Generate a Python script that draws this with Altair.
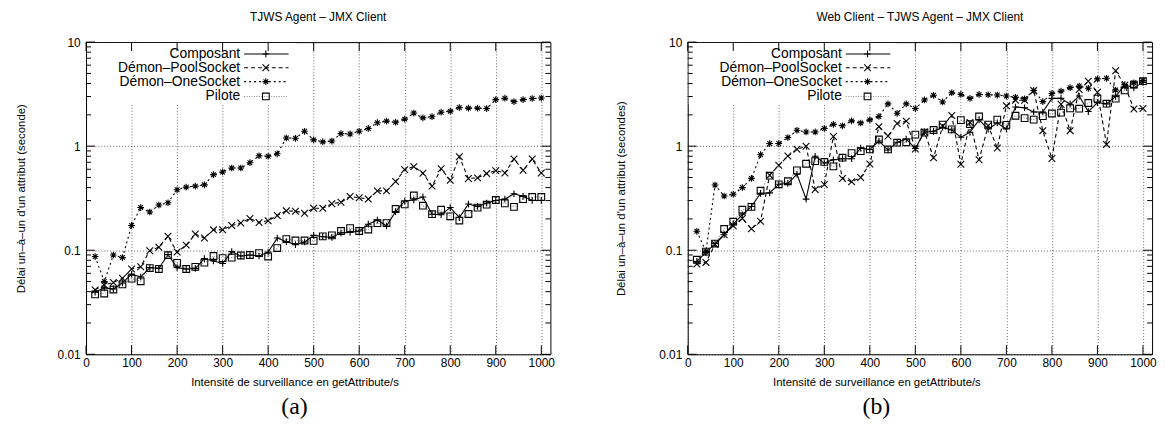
import altair as alt
import pandas as pd

# ---------------- data ----------------
X = list(range(20, 1001, 20))
SERIES = ["Composant", "Démon–PoolSocket", "Démon–OneSocket", "Pilote"]

COMPOSANT_A = [0.0395, 0.0435, 0.0425, 0.0485, 0.059, 0.0553, 0.068, 0.067, 0.091, 0.068,
               0.066, 0.067, 0.083, 0.079, 0.0746, 0.097, 0.088, 0.090, 0.088, 0.096,
               0.131, 0.121, 0.113, 0.120, 0.139, 0.135, 0.133, 0.147, 0.148, 0.153,
               0.178, 0.195, 0.171, 0.235, 0.297, 0.304, 0.325, 0.222, 0.219, 0.257,
               0.206, 0.278, 0.264, 0.284, 0.301, 0.310, 0.349, 0.329, 0.301, 0.301]
POOL_A = [0.0416, 0.0464, 0.049, 0.0537, 0.0659, 0.0693, 0.099, 0.107, 0.136, 0.096,
          0.112, 0.143, 0.131, 0.157, 0.157, 0.173, 0.183, 0.202, 0.185, 0.192,
          0.216, 0.239, 0.237, 0.227, 0.253, 0.253, 0.280, 0.289, 0.329, 0.319,
          0.310, 0.372, 0.372, 0.457, 0.595, 0.636, 0.55, 0.413, 0.608, 0.471,
          0.791, 0.489, 0.496, 0.545, 0.582, 0.553, 0.752, 0.587, 0.752, 0.553]
ONE_A = [0.087, 0.050, 0.090, 0.085, 0.173, 0.257, 0.233, 0.272, 0.286, 0.381,
         0.404, 0.413, 0.425, 0.533, 0.565, 0.617, 0.617, 0.694, 0.809, 0.80,
         0.845, 1.20, 1.19, 1.39, 1.15, 1.10, 1.12, 1.32, 1.31, 1.39,
         1.48, 1.68, 1.74, 1.70, 1.82, 2.08, 1.87, 1.92, 2.12, 2.17,
         2.35, 2.32, 2.32, 2.30, 2.80, 2.89, 2.68, 2.80, 2.87, 2.90]
PILOTE_A = [0.0376, 0.0384, 0.0419, 0.047, 0.0533, 0.0503, 0.0674, 0.066, 0.0896, 0.0757,
            0.066, 0.0693, 0.076, 0.088, 0.084, 0.085, 0.089, 0.090, 0.094, 0.087,
            0.105, 0.128, 0.124, 0.124, 0.123, 0.136, 0.139, 0.153, 0.163, 0.153,
            0.158, 0.182, 0.182, 0.249, 0.276, 0.336, 0.268, 0.222, 0.245, 0.212,
            0.193, 0.223, 0.257, 0.274, 0.304, 0.282, 0.261, 0.310, 0.325, 0.325]

COMPOSANT_B = [0.078, 0.095, 0.116, 0.141, 0.179, 0.219, 0.263, 0.352, 0.356, 0.43,
               0.44, 0.537, 0.31, 0.80, 0.69, 0.74, 0.758, 0.758, 0.957, 0.93,
               1.12, 0.92, 1.09, 1.17, 0.95, 1.37, 1.39, 1.52, 1.43, 1.22,
               1.36, 1.79, 1.46, 1.67, 1.46, 2.38, 2.34, 2.13, 2.13, 2.88,
               2.88, 2.53, 3.03, 2.15, 2.62, 2.55, 3.0, 3.9, 3.64, 4.1]
POOL_B = [0.0736, 0.0764, 0.114, 0.141, 0.172, 0.202, 0.161, 0.19, 0.526, 0.655,
          0.803, 0.936, 1.0, 0.384, 0.429, 1.24, 0.49, 0.455, 0.50, 0.674,
          1.54, 1.25, 1.65, 1.74, 0.94, 1.37, 0.775, 1.56, 1.97, 0.67,
          1.69, 0.74, 1.57, 0.96, 2.44, 2.76, 2.76, 3.43, 1.41, 0.76,
          2.53, 1.41, 3.5, 4.2, 3.3, 1.04, 5.3, 3.85, 2.28, 2.3]
ONE_B = [0.152, 0.097, 0.423, 0.332, 0.345, 0.40, 0.49, 0.828, 1.06, 1.06,
         1.21, 1.42, 1.37, 1.37, 1.48, 1.62, 1.57, 1.75, 1.67, 1.79,
         1.93, 2.55, 2.07, 2.55, 2.30, 2.78, 3.08, 2.66, 3.26, 3.14,
         2.88, 3.14, 3.12, 3.10, 3.03, 2.95, 2.85, 3.43, 2.68, 3.21,
         3.38, 3.65, 3.78, 3.6, 4.43, 4.49, 3.46, 3.77, 4.06, 4.27]
PILOTE_B = [0.081, 0.097, 0.116, 0.16, 0.188, 0.245, 0.261, 0.373, 0.52, 0.43,
            0.46, 0.586, 0.678, 0.719, 0.705, 0.64, 0.775, 0.857, 0.896, 0.93,
            1.16, 0.93, 1.08, 1.09, 1.29, 1.35, 1.43, 1.61, 1.45, 1.78,
            1.63, 1.93, 1.61, 1.80, 1.60, 1.96, 1.86, 1.80, 1.94, 2.06,
            2.10, 2.31, 2.29, 2.60, 2.86, 2.56, 2.86, 3.43, 3.91, 4.21]

PANEL_TITLES = ["TJWS Agent – JMX Client", "Web Client – TJWS Agent – JMX Client"]
Y_TITLES = ["Délai un–à–un d'un attribut (seconde)", "Délai un–à–un d'un attribut (secondes)"]
X_TITLE = "Intensité de surveillance en getAttribute/s"
CAPTIONS = ["(a)", "(b)"]

Y_MAJOR = [0.01, 0.1, 1, 10]
Y_MINOR = [0.02, 0.03, 0.04, 0.05, 0.06, 0.07, 0.08, 0.09,
           0.2, 0.3, 0.4, 0.5, 0.6, 0.7, 0.8, 0.9,
           2, 3, 4, 5, 6, 7, 8, 9]
X_MAJOR = [0, 100, 200, 300, 400, 500, 600, 700, 800, 900, 1000]

# ---------------- styles ----------------
W, H = 470, 316
FONT = "Liberation Sans"
PLUS = "M-1,0L1,0M0,-1L0,1"
CROSS = "M-1,-1L1,1M-1,1L1,-1"
STAR = "M-1,0L1,0M0,-1L0,1M-0.7,-0.7L0.7,0.7M-0.7,0.7L0.7,-0.7"
SHAPES = [PLUS, CROSS, STAR, "square"]
COLORS = ["black", "black", "black", "#8c8c8c"]
DASHES = [[1, 0], [4, 3], [2, 3], [1, 1.5]]
LEG_ROWS = [12, 26, 40, 55]


def make_panel(series_vals, idx, title_x):
    rows = []
    for name, vals in zip(SERIES, series_vals):
        for xv, yv in zip(X, vals):
            rows.append({"x": xv, "value": yv, "series": name})
    df = pd.DataFrame(rows)

    x_axis = alt.Axis(values=X_MAJOR, format="d", title=X_TITLE, ticks=False, tickSize=0,
                      labelPadding=3, labelFlush=False, titleX=title_x, titleY=29,
                      titleBaseline="middle", domain=False)
    y_axis = alt.Axis(values=Y_MAJOR, format="~g", title=Y_TITLES[idx], ticks=False, tickSize=0,
                      labelPadding=6, labelFlush=False, titleX=-65 if idx == 0 else -67,
                      titleBaseline="middle", domain=False)
    xs = alt.Scale(domain=[0, 1020], nice=False, zero=False)
    ys = alt.Scale(type="log", domain=[0.01, 10], nice=False)

    X_ENC = alt.X("x:Q", scale=xs, axis=x_axis)
    Y_ENC = alt.Y("value:Q", scale=ys, axis=y_axis)

    one = pd.DataFrame({"k": [0]})
    legend_bg = alt.Chart(one).mark_rect(color="white").encode(
        x=alt.value(1), x2=alt.value(212), y=alt.value(1), y2=alt.value(63))

    lines = alt.Chart(df).mark_line(strokeWidth=1.1).encode(
        x=X_ENC, y=Y_ENC,
        color=alt.Color("series:N", scale=alt.Scale(domain=SERIES, range=COLORS), legend=None),
        strokeDash=alt.StrokeDash("series:N", scale=alt.Scale(domain=SERIES, range=DASHES), legend=None),
        detail="series:N",
    )
    points = alt.Chart(df).mark_point(filled=False, size=46, strokeWidth=1.1, color="black", opacity=1).encode(
        x=X_ENC, y=Y_ENC,
        shape=alt.Shape("series:N", scale=alt.Scale(domain=SERIES, range=SHAPES), legend=None),
    )

    layers = [legend_bg]

    # inner ticks (gnuplot style)
    ymaj = pd.DataFrame({"value": Y_MAJOR})
    ymin = pd.DataFrame({"value": Y_MINOR})
    xmaj = pd.DataFrame({"x": X_MAJOR})
    for d, ln in ((ymaj, 9), (ymin, 5)):
        layers.append(alt.Chart(d).mark_rule(color="black", strokeWidth=1).encode(
            y=Y_ENC, x=alt.value(0), x2=alt.value(ln)))
        layers.append(alt.Chart(d).mark_rule(color="black", strokeWidth=1).encode(
            y=Y_ENC, x=alt.value(W), x2=alt.value(W - ln)))
    layers.append(alt.Chart(xmaj).mark_rule(color="black", strokeWidth=1).encode(
        x=X_ENC, y=alt.value(H), y2=alt.value(H - 9)))
    layers.append(alt.Chart(xmaj).mark_rule(color="black", strokeWidth=1).encode(
        x=X_ENC, y=alt.value(0), y2=alt.value(9)))

    layers += [lines, points]

    # gnuplot-like key (label left, sample right)
    for i, name in enumerate(SERIES):
        d = pd.DataFrame({"label": [name]})
        layers.append(alt.Chart(d).mark_text(align="right", baseline="middle", fontSize=14,
                                             font=FONT, color="black").encode(
            x=alt.value(156), y=alt.value(LEG_ROWS[i]), text="label:N"))
        layers.append(alt.Chart(d).mark_rule(color=COLORS[i], strokeDash=DASHES[i], strokeWidth=1.1).encode(
            x=alt.value(160), x2=alt.value(205), y=alt.value(LEG_ROWS[i])))
        layers.append(alt.Chart(d).mark_point(shape=SHAPES[i], filled=False, size=46, strokeWidth=1.1,
                                              color="black", opacity=1).encode(
            x=alt.value(182), y=alt.value(LEG_ROWS[i])))

    cap = pd.DataFrame({"label": [CAPTIONS[idx]]})
    layers.append(alt.Chart(cap).mark_text(align="center", baseline="middle", fontSize=24,
                                           font="Liberation Serif", color="black").encode(
        x=alt.value(title_x), y=alt.value(H + 53), text="label:N"))

    return alt.layer(*layers).properties(
        width=W, height=H,
        title=alt.TitleParams(PANEL_TITLES[idx], fontSize=12, font=FONT, fontWeight="normal",
                              anchor="middle", frame="group", offset=12, color="black"),
    )


panel_a = make_panel([COMPOSANT_A, POOL_A, ONE_A, PILOTE_A], 0, 211)
panel_b = make_panel([COMPOSANT_B, POOL_B, ONE_B, PILOTE_B], 1, 191)

chart = alt.hconcat(panel_a, panel_b, spacing=60).properties(
    padding={"left": 7, "top": 0, "right": 0, "bottom": 0}
).configure_view(
    stroke="black", strokeWidth=1
).configure_axis(
    grid=True, gridColor="black", gridDash=[1, 2], gridOpacity=0.75, gridWidth=0.8,
    labelFont=FONT, labelFontSize=12, labelColor="black",
    titleFont=FONT, titleFontSize=11.5, titleFontWeight="normal", titleColor="black",
    labelOverlap=False,
)

chart.save("out.html", embed_options={"renderer": "svg", "actions": False})
